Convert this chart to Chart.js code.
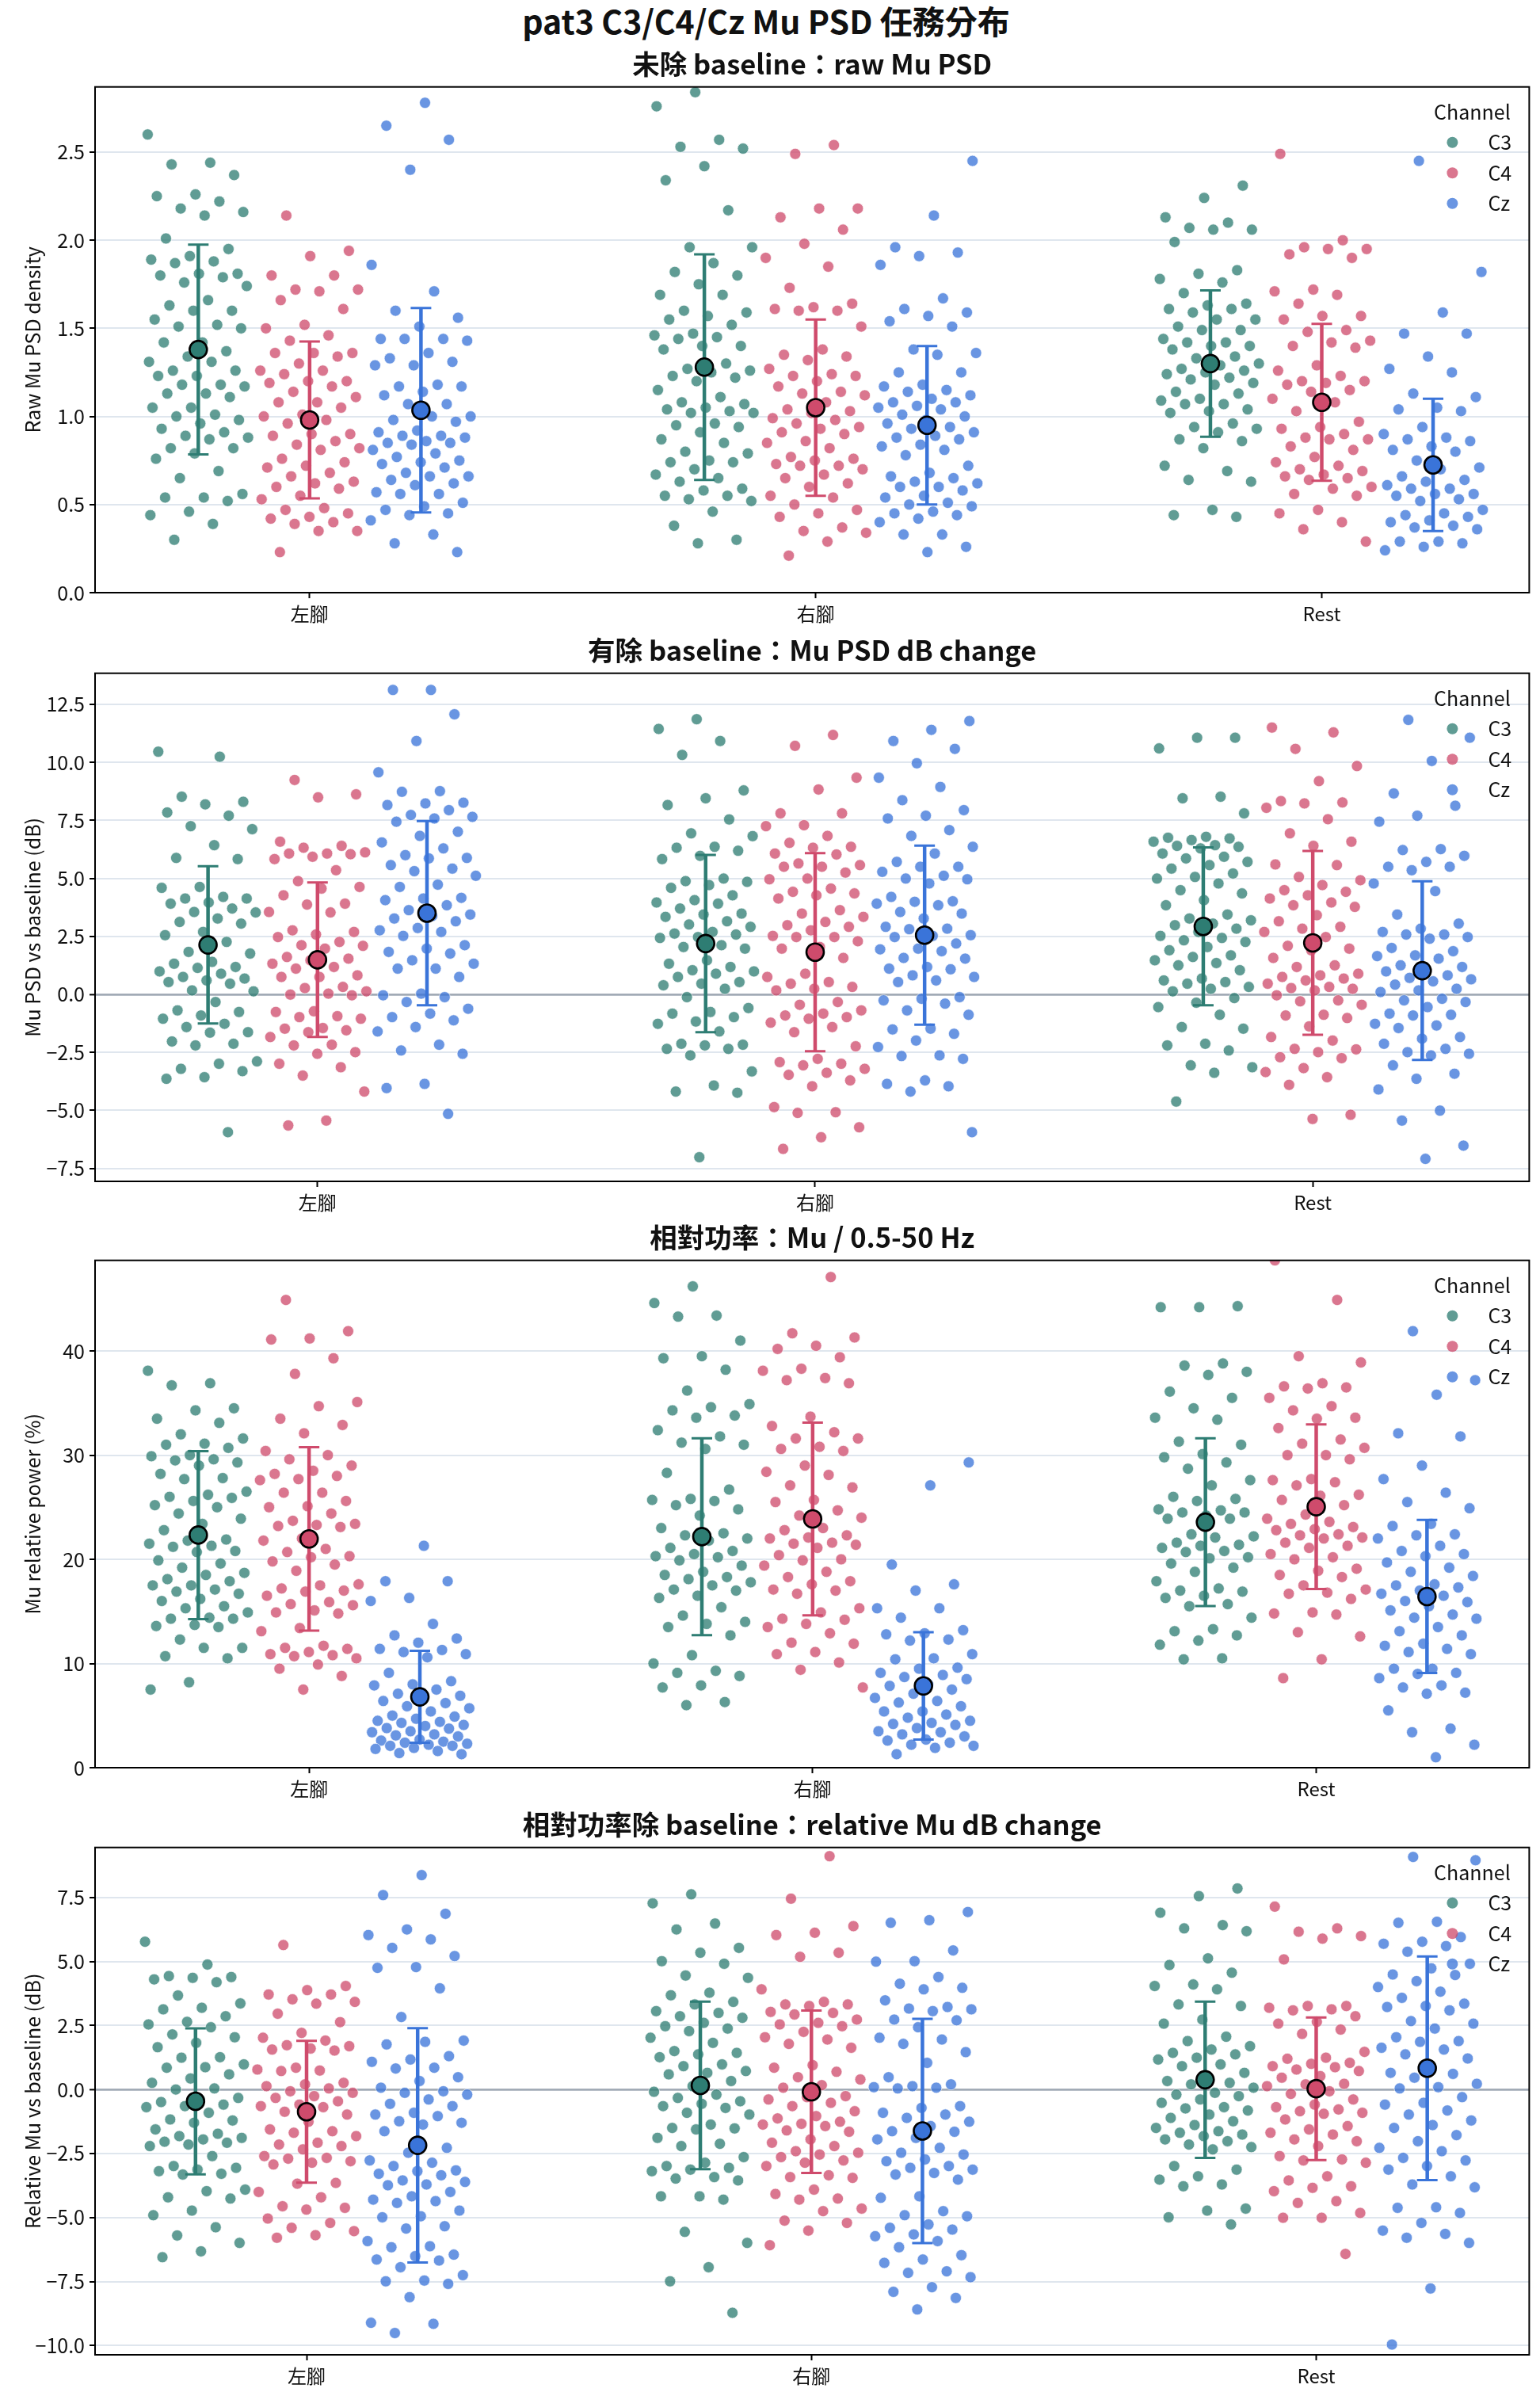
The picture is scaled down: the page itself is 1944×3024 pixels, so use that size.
<!DOCTYPE html>
<html>
<head>
<meta charset="utf-8">
<script src="https://cdn.jsdelivr.net/npm/chart.js@4.4.1/dist/chart.umd.min.js"></script>
<style>
  body { margin: 0; background: #fff; width: 1944px; height: 3024px; position: relative; overflow: hidden; }
  canvas { position: absolute; left: 0; }
  #mainTitle { position: absolute; left: 0; top: -5px; width: 1934px; height: 54px; line-height: 54px; text-align: center;
    font: bold 41px 'Noto Sans CJK TC', 'Noto Sans', sans-serif; color: #111; }
</style>
</head>
<body>
<div id="mainTitle"></div>
<canvas id="p1"></canvas>
<canvas id="p2"></canvas>
<canvas id="p3"></canvas>
<canvas id="p4"></canvas>
<script>
// categories / hue levels
const conditions = ['左腳', '右腳', 'Rest'];
const channels = ['C3', 'C4', 'Cz'];

// panel 1: raw Mu PSD, one list per condition [左腳, 右腳, Rest]
const rawC3 = [
  [2.60,2.44,2.43,2.37,2.26,2.25,2.22,2.18,2.16,2.14,2.01,1.95,1.91,1.89,1.88,1.87,1.81,1.81,1.80,1.79,1.76,1.74,1.66,1.63,1.60,1.60,1.55,1.52,1.51,1.50,1.42,1.42,1.37,1.34,1.31,1.31,1.26,1.26,1.23,1.23,1.18,1.18,1.17,1.13,1.13,1.11,1.05,1.05,1.01,1.00,0.98,0.96,0.93,0.91,0.89,0.88,0.87,0.82,0.82,0.79,0.76,0.69,0.65,0.56,0.54,0.54,0.52,0.46,0.44,0.39,0.30],
  [2.84,2.76,2.57,2.53,2.52,2.42,2.34,2.17,1.96,1.96,1.87,1.82,1.80,1.75,1.69,1.69,1.60,1.59,1.57,1.55,1.52,1.47,1.46,1.45,1.44,1.40,1.40,1.38,1.30,1.27,1.26,1.25,1.23,1.22,1.20,1.15,1.11,1.08,1.07,1.05,1.04,1.03,1.02,1.02,0.96,0.95,0.94,0.91,0.87,0.85,0.80,0.79,0.75,0.74,0.74,0.70,0.67,0.65,0.63,0.59,0.58,0.55,0.55,0.53,0.52,0.46,0.38,0.30,0.28],
  [2.31,2.24,2.13,2.10,2.07,2.06,2.06,1.99,1.83,1.81,1.78,1.76,1.70,1.64,1.63,1.61,1.61,1.59,1.55,1.55,1.51,1.49,1.49,1.44,1.42,1.42,1.40,1.40,1.38,1.34,1.33,1.30,1.29,1.27,1.26,1.25,1.24,1.22,1.21,1.19,1.18,1.14,1.13,1.10,1.09,1.07,1.07,1.04,1.03,1.02,0.96,0.94,0.93,0.91,0.87,0.86,0.82,0.72,0.69,0.64,0.63,0.47,0.44,0.43]
];
const rawC4 = [
  [2.14,1.94,1.91,1.80,1.80,1.72,1.72,1.71,1.66,1.61,1.52,1.50,1.46,1.43,1.36,1.36,1.36,1.34,1.30,1.26,1.26,1.24,1.20,1.20,1.19,1.17,1.14,1.11,1.08,1.08,1.05,1.01,1.00,0.98,0.96,0.90,0.90,0.89,0.86,0.84,0.82,0.81,0.76,0.74,0.72,0.71,0.68,0.66,0.63,0.62,0.60,0.59,0.55,0.53,0.48,0.47,0.45,0.43,0.42,0.40,0.39,0.35,0.35,0.23],
  [2.54,2.49,2.18,2.18,2.13,2.06,1.98,1.90,1.85,1.73,1.64,1.62,1.61,1.60,1.60,1.51,1.38,1.35,1.34,1.32,1.27,1.24,1.23,1.23,1.20,1.17,1.14,1.13,1.12,1.08,1.04,1.03,1.02,0.99,0.98,0.96,0.94,0.93,0.91,0.90,0.86,0.85,0.82,0.77,0.76,0.75,0.73,0.72,0.72,0.70,0.67,0.65,0.62,0.60,0.55,0.54,0.50,0.47,0.45,0.43,0.37,0.35,0.34,0.29,0.21],
  [2.49,2.00,1.96,1.95,1.95,1.92,1.90,1.72,1.71,1.69,1.64,1.57,1.57,1.55,1.49,1.48,1.43,1.42,1.40,1.39,1.29,1.26,1.23,1.20,1.20,1.19,1.18,1.15,1.14,1.10,1.08,1.03,0.97,0.94,0.93,0.90,0.88,0.87,0.87,0.83,0.81,0.77,0.74,0.72,0.70,0.69,0.67,0.66,0.65,0.64,0.60,0.59,0.56,0.55,0.47,0.45,0.40,0.36,0.29]
];
const rawCz = [
  [2.78,2.65,2.57,2.40,1.86,1.71,1.60,1.56,1.51,1.44,1.44,1.44,1.43,1.36,1.33,1.31,1.29,1.29,1.18,1.17,1.17,1.14,1.12,1.07,1.07,1.00,1.00,0.98,0.97,0.92,0.91,0.89,0.89,0.88,0.86,0.85,0.85,0.84,0.81,0.79,0.77,0.75,0.74,0.73,0.71,0.68,0.66,0.66,0.64,0.62,0.61,0.57,0.56,0.56,0.51,0.49,0.47,0.45,0.44,0.41,0.33,0.28,0.23],
  [2.45,2.14,1.96,1.93,1.91,1.86,1.67,1.61,1.59,1.57,1.54,1.51,1.38,1.36,1.35,1.25,1.25,1.18,1.17,1.15,1.14,1.12,1.10,1.08,1.08,1.06,1.05,1.04,1.01,1.00,0.98,0.96,0.94,0.93,0.91,0.89,0.88,0.87,0.84,0.83,0.81,0.78,0.72,0.68,0.66,0.65,0.63,0.62,0.60,0.60,0.58,0.55,0.54,0.51,0.50,0.49,0.46,0.45,0.44,0.42,0.40,0.33,0.33,0.26,0.23],
  [2.45,1.82,1.59,1.47,1.47,1.34,1.27,1.25,1.13,1.11,1.05,1.04,1.03,0.94,0.90,0.88,0.87,0.86,0.83,0.81,0.80,0.75,0.71,0.70,0.66,0.64,0.63,0.61,0.59,0.59,0.56,0.56,0.55,0.53,0.52,0.47,0.45,0.44,0.43,0.41,0.40,0.38,0.37,0.36,0.29,0.29,0.28,0.26,0.24]
];
const rawMeanC3 = [1.38, 1.28, 1.30], rawSdC3 = [0.595, 0.64, 0.415];
const rawMeanC4 = [0.98, 1.05, 1.08], rawSdC4 = [0.445, 0.50, 0.445];
const rawMeanCz = [1.035, 0.95, 0.725], rawSdCz = [0.58, 0.45, 0.375];
const rawTicks = [0, 0.5, 1, 1.5, 2, 2.5];
const rawTickLabels = ['0.0', '0.5', '1.0', '1.5', '2.0', '2.5'];

// panel 2: Mu PSD dB change vs baseline
const dbC3 = [
  [10.46,10.24,8.52,8.30,8.19,7.84,7.70,7.25,7.12,6.43,5.88,5.83,4.63,4.59,4.20,4.13,4.13,3.96,3.91,3.70,3.55,3.53,3.27,3.12,3.05,2.69,2.55,2.26,1.83,1.76,1.40,1.32,1.18,1.14,0.99,0.89,0.75,0.68,0.60,0.53,0.46,0.17,0.13,-0.33,-0.69,-0.76,-0.91,-1.05,-1.27,-1.41,-1.63,-1.65,-2.03,-2.13,-2.20,-2.89,-2.99,-3.21,-3.31,-3.57,-3.64,-5.94],
  [11.86,11.44,10.92,10.32,8.79,8.45,8.16,7.54,6.94,6.82,6.36,6.32,6.19,5.97,5.83,4.99,4.88,4.85,4.71,4.59,4.27,4.06,3.96,3.91,3.70,3.48,3.44,3.34,3.15,3.01,2.91,2.69,2.62,2.58,2.47,2.43,2.12,2.04,1.97,1.47,1.32,1.18,1.04,0.99,0.89,0.75,0.53,0.46,0.39,0.24,-0.12,-0.59,-0.76,-0.83,-0.98,-1.17,-1.27,-1.60,-2.13,-2.17,-2.20,-2.35,-2.35,-2.63,-3.32,-3.93,-4.19,-4.24,-7.02],
  [11.06,11.06,10.60,8.52,8.45,7.80,6.79,6.75,6.72,6.65,6.58,6.43,6.40,6.36,6.29,6.07,5.93,5.86,5.71,5.57,5.42,5.21,5.06,4.99,4.78,4.49,4.35,4.06,3.84,3.44,3.27,3.19,3.05,2.98,2.83,2.69,2.52,2.43,2.33,2.26,2.04,1.90,1.68,1.61,1.47,1.35,1.25,1.04,0.68,0.60,0.53,0.46,0.32,0.24,0.13,-0.16,-0.36,-0.55,-0.88,-1.41,-1.48,-2.13,-2.20,-2.42,-3.06,-3.14,-3.38,-4.62]
];
const dbC4 = [
  [9.24,8.62,8.49,6.58,6.40,6.32,6.12,6.07,6.07,6.04,5.93,5.83,5.35,4.88,4.63,4.56,4.27,3.91,3.87,3.55,3.53,2.76,2.69,2.58,2.47,2.26,2.12,2.09,1.97,1.61,1.54,1.47,1.32,1.18,1.11,0.82,0.75,0.75,0.32,0.27,0.13,0.03,-0.01,-0.04,-0.73,-0.76,-0.94,-0.98,-1.05,-1.45,-1.48,-1.55,-1.63,-1.84,-2.17,-2.20,-2.49,-2.56,-2.99,-3.14,-3.50,-4.19,-5.44,-5.65],
  [11.18,10.71,9.34,8.83,7.80,7.80,7.29,7.25,6.83,6.53,6.36,6.32,6.07,6.03,5.64,5.57,5.50,5.50,5.25,4.99,4.96,4.56,4.42,4.35,4.27,4.13,3.63,3.48,3.34,3.12,2.98,2.91,2.76,2.52,2.47,2.47,2.29,2.04,1.97,1.57,0.89,0.75,0.53,0.46,0.32,0.24,0.17,-0.33,-0.45,-0.69,-0.83,-0.91,-0.98,-1.05,-1.22,-1.41,-1.63,-2.24,-2.78,-2.92,-2.99,-3.06,-3.21,-3.38,-3.47,-3.71,-3.96,-4.86,-5.08,-5.11,-5.73,-6.16,-6.66],
  [11.50,11.29,10.58,9.84,9.19,8.33,8.27,8.23,8.04,7.55,6.94,6.58,6.40,5.60,5.57,5.06,4.92,4.71,4.49,4.42,4.27,4.13,3.96,3.84,3.77,3.41,3.15,2.91,2.83,2.69,2.47,2.09,1.97,1.90,1.57,1.25,1.18,0.89,0.82,0.75,0.68,0.60,0.46,0.32,0.27,0.24,0.17,-0.04,-0.26,-0.30,-0.45,-0.88,-0.91,-1.02,-1.38,-1.84,-1.99,-2.35,-2.37,-2.49,-2.71,-2.75,-3.18,-3.35,-3.57,-3.90,-5.19,-5.37]
];
const dbCz = [
  [13.12,13.12,12.07,10.92,9.57,8.76,8.73,8.26,8.23,8.16,7.94,7.73,7.65,7.58,7.44,7.01,6.83,6.55,6.29,6.00,5.88,5.86,5.57,5.42,5.31,5.11,4.73,4.63,4.16,4.13,4.06,3.84,3.63,3.44,3.38,3.27,3.15,2.86,2.76,2.69,2.52,2.12,1.97,1.83,1.76,1.47,1.32,1.11,1.11,0.75,0.03,-0.04,-0.12,-0.33,-0.62,-0.83,-0.98,-1.12,-1.41,-1.60,-2.17,-2.42,-2.56,-3.86,-4.04,-5.15],
  [11.78,11.40,10.92,10.58,9.96,9.34,8.94,8.37,7.94,7.70,7.58,7.08,6.83,6.36,6.07,5.71,5.50,5.50,5.28,5.11,4.99,4.96,4.78,4.20,4.01,3.99,3.91,3.84,3.55,3.48,3.27,2.91,2.83,2.81,2.55,2.52,2.47,2.19,1.97,1.94,1.86,1.57,1.54,1.18,1.11,1.08,0.82,0.75,0.60,0.53,-0.12,-0.19,-0.26,-0.40,-0.69,-0.88,-1.48,-1.51,-1.70,-1.99,-2.27,-2.63,-2.66,-2.78,-3.71,-3.86,-3.96,-4.19,-5.94],
  [11.83,11.06,10.06,8.66,8.13,7.70,7.44,6.26,6.22,5.97,5.71,5.50,5.50,5.35,4.78,4.45,3.44,3.05,2.83,2.69,2.58,2.58,2.47,2.40,2.00,1.86,1.68,1.65,1.54,1.25,1.18,1.04,0.99,0.82,0.71,0.65,0.56,0.42,0.24,0.17,0.10,-0.19,-0.26,-0.33,-0.55,-0.83,-0.88,-0.91,-1.27,-1.34,-1.45,-1.84,-1.91,-2.13,-2.35,-2.49,-2.56,-2.63,-3.06,-3.42,-3.64,-4.10,-5.01,-5.44,-6.52,-7.09]
];
const dbMeanC3 = [2.13, 2.19, 2.93], dbSdC3 = [3.39, 3.82, 3.40];
const dbMeanC4 = [1.49, 1.82, 2.22], dbSdC4 = [3.33, 4.27, 3.96];
const dbMeanCz = [3.50, 2.55, 1.02], dbSdCz = [3.97, 3.86, 3.85];
const dbTicks = [-7.5, -5, -2.5, 0, 2.5, 5, 7.5, 10, 12.5];
const dbTickLabels = ['−7.5', '−5.0', '−2.5', '0.0', '2.5', '5.0', '7.5', '10.0', '12.5'];

// panel 3: relative Mu power (%)
const relC3 = [
  [38.1,36.9,36.7,34.5,34.3,33.5,33.1,32.0,31.6,31.1,31.0,30.7,30.0,29.9,29.6,29.5,29.3,29.0,28.2,27.8,27.7,26.5,26.2,26.0,25.9,25.6,25.2,25.0,24.4,23.9,23.4,22.8,21.9,21.8,21.5,21.3,21.2,20.8,20.7,19.9,19.6,19.2,18.7,18.5,18.1,17.9,17.5,17.5,17.1,16.9,16.7,16.2,16.0,15.5,15.3,14.9,14.4,14.3,14.3,13.7,13.6,13.5,12.3,11.5,11.5,10.7,10.5,8.2,7.5],
  [46.2,44.6,43.4,43.3,41.0,39.5,39.3,38.2,36.2,34.9,34.6,34.3,33.8,33.6,32.4,31.8,31.2,31.0,30.6,28.3,26.7,25.8,25.7,25.6,25.2,24.8,24.2,23.0,22.5,22.3,22.0,21.8,21.1,20.8,20.5,20.3,20.2,19.9,19.4,18.8,18.5,18.3,18.1,17.8,17.5,17.1,17.0,16.5,16.3,15.4,14.6,14.0,13.8,13.5,12.7,10.8,10.0,9.3,9.1,8.8,7.9,7.7,6.3,6.0],
  [44.3,44.2,44.2,38.8,38.6,38.0,37.7,36.1,35.5,34.5,33.6,33.4,31.3,31.0,30.1,29.8,29.3,28.7,27.6,27.1,26.0,25.8,25.6,24.8,24.7,24.5,24.5,24.2,23.9,23.9,22.4,22.2,22.1,21.6,21.4,21.3,21.1,20.8,20.7,20.2,20.1,19.6,19.2,18.8,17.9,17.2,17.0,16.9,16.5,16.3,15.7,15.5,14.4,13.3,13.1,12.7,12.2,11.8,10.5,10.4]
];
const relC4 = [
  [44.9,41.9,41.2,41.1,39.3,37.8,35.1,34.7,33.5,32.9,32.1,30.4,30.0,29.6,29.0,28.5,28.2,28.0,27.7,27.6,26.4,26.4,25.6,25.1,25.0,24.4,23.7,23.4,23.3,23.2,23.1,22.0,21.8,21.0,20.7,20.3,20.2,19.8,19.5,18.9,17.6,17.5,17.2,17.0,16.9,16.5,15.9,15.7,15.6,15.1,14.9,14.8,13.4,13.1,11.7,11.5,11.4,11.1,10.9,10.8,10.7,10.5,9.9,9.5,8.8,7.5],
  [47.1,41.7,41.3,40.5,40.2,39.4,38.3,38.1,37.4,37.2,36.9,33.7,32.8,32.2,31.6,31.6,30.8,30.6,30.4,29.0,28.4,28.1,27.1,26.9,25.7,25.5,24.7,24.2,24.0,23.0,22.8,22.3,22.1,22.0,21.6,21.5,21.4,21.1,20.4,20.0,19.9,19.4,18.8,18.3,17.9,17.6,17.1,17.0,16.7,15.3,14.9,14.3,14.2,13.8,13.5,12.9,12.0,11.9,11.1,10.9,10.1,9.4,7.7],
  [48.7,44.9,39.5,38.9,36.9,36.6,36.5,36.4,35.5,34.7,34.3,33.6,33.5,32.6,31.5,31.1,30.7,30.0,30.0,29.6,27.7,27.6,27.4,27.1,26.2,26.1,25.7,25.2,24.3,23.9,23.6,23.4,23.1,22.9,22.8,22.4,22.3,22.1,22.0,21.6,21.3,21.1,20.5,20.2,20.0,19.1,18.9,18.5,18.3,17.5,17.1,16.8,16.7,16.2,14.9,14.8,14.7,13.0,12.6,10.4,8.6]
];
const relCz = [
  [21.3,17.9,17.9,16.3,16.0,13.8,12.7,12.4,12.0,11.4,11.3,11.1,10.9,10.6,9.1,8.3,8.0,7.9,7.5,7.1,6.9,6.6,6.4,6.2,5.9,5.7,5.4,5.0,4.9,4.7,4.5,4.4,4.3,4.1,4.0,3.8,3.75,3.5,3.4,3.2,3.1,3.0,2.7,2.6,2.5,2.4,2.3,2.2,2.1,2.1,1.9,1.8,1.6,1.4,1.3],
  [29.3,27.1,19.5,17.6,17.0,15.3,15.3,14.4,13.2,12.9,12.8,12.3,12.2,10.9,10.5,10.4,9.6,9.5,9.1,8.9,8.7,8.5,8.0,7.85,7.5,7.1,6.7,6.4,6.25,5.9,5.4,5.4,5.1,4.8,4.5,4.3,4.2,4.1,3.8,3.5,3.4,3.2,3.0,2.7,2.6,2.4,2.2,2.1,1.9,1.3],
  [41.9,37.2,35.8,32.1,31.8,29.0,27.7,26.4,25.5,24.9,23.4,23.2,22.4,22.3,22.0,21.3,20.8,20.5,20.3,19.7,19.2,18.8,18.4,17.6,17.5,17.3,17.0,16.7,16.5,16.0,15.9,15.5,15.1,14.7,14.4,14.3,13.5,13.1,12.7,11.9,11.7,11.4,11.1,10.9,9.5,9.5,9.1,9.0,8.6,7.9,7.7,7.2,7.1,5.5,3.75,3.4,2.2,1.0]
];
const relMeanC3 = [22.33, 22.18, 23.57], relSdC3 = [8.06, 9.45, 8.05];
const relMeanC4 = [21.96, 23.88, 25.05], relSdC4 = [8.8, 9.25, 7.9];
const relMeanCz = [6.8, 7.85, 16.43], relSdCz = [4.41, 5.15, 7.35];
const relTicks = [0, 10, 20, 30, 40];
const relTickLabels = ['0', '10', '20', '30', '40'];

// panel 4: relative Mu dB change vs baseline
const relDbC3 = [
  [5.77,4.88,4.43,4.39,4.36,4.30,4.19,3.67,3.36,3.19,3.13,2.86,2.64,2.54,2.43,2.15,2.04,1.82,1.65,1.26,1.24,0.98,0.87,0.85,0.59,0.43,0.26,0.04,0.00,-0.33,-0.39,-0.49,-0.59,-0.65,-0.69,-0.91,-1.17,-1.21,-1.30,-1.56,-1.73,-1.82,-1.89,-1.95,-2.04,-2.08,-2.15,-2.21,-2.60,-2.99,-3.06,-3.13,-3.19,-3.29,-3.32,-3.91,-3.97,-4.21,-4.26,-4.73,-4.91,-5.38,-5.70,-5.99,-6.32,-6.55],
  [7.62,7.27,6.48,6.25,5.53,5.34,5.01,4.91,4.45,4.36,3.78,3.68,3.42,3.32,3.06,2.99,2.86,2.80,2.60,2.47,2.38,2.28,2.02,1.82,1.50,1.43,1.37,1.26,0.98,0.91,0.72,0.65,0.59,0.33,0.13,-0.09,-0.20,-0.33,-0.46,-0.56,-0.65,-0.72,-0.91,-0.98,-1.37,-1.50,-1.52,-1.56,-1.89,-2.12,-2.21,-2.64,-2.86,-2.99,-3.06,-3.13,-3.19,-3.42,-3.48,-3.55,-4.17,-4.17,-4.30,-5.56,-5.99,-6.94,-7.49,-8.72],
  [7.85,7.55,6.90,6.42,6.29,6.18,5.12,4.86,4.56,4.10,4.04,3.91,3.32,3.26,2.73,2.57,2.06,1.89,1.69,1.56,1.43,1.37,1.24,1.17,0.98,0.91,0.65,0.52,0.33,0.26,0.20,0.07,-0.13,-0.20,-0.26,-0.39,-0.52,-0.69,-0.74,-0.82,-0.98,-1.11,-1.24,-1.39,-1.50,-1.63,-1.69,-1.76,-1.82,-1.95,-2.02,-2.15,-2.25,-2.34,-2.99,-3.13,-3.39,-3.52,-3.71,-3.78,-4.65,-4.73,-4.99,-5.27]
];
const relDbC4 = [
  [5.64,4.04,3.88,3.71,3.71,3.52,3.42,3.35,2.96,2.63,2.21,2.02,1.91,1.73,1.69,1.60,1.56,1.52,0.85,0.78,0.74,0.72,0.26,0.20,0.13,0.04,-0.07,-0.13,-0.26,-0.33,-0.46,-0.59,-0.65,-0.69,-0.87,-0.98,-1.26,-1.56,-1.63,-1.69,-1.82,-2.08,-2.15,-2.21,-2.34,-2.60,-2.67,-2.70,-2.80,-2.86,-2.93,-3.65,-3.68,-4.00,-4.21,-4.56,-4.62,-4.69,-5.04,-5.21,-5.40,-5.53,-5.69,-5.79],
  [9.11,7.45,6.38,6.12,6.03,5.34,5.18,3.91,3.42,3.32,3.32,3.26,3.03,2.99,2.93,2.73,2.60,2.54,2.47,2.25,2.04,1.95,1.78,1.63,0.95,0.85,0.69,0.48,0.39,0.17,0.07,-0.26,-0.30,-0.39,-0.52,-0.65,-0.85,-1.04,-1.13,-1.26,-1.34,-1.37,-1.43,-1.60,-1.65,-1.95,-2.08,-2.21,-2.41,-2.47,-2.54,-2.64,-2.77,-2.86,-2.99,-3.35,-3.42,-3.45,-3.91,-4.08,-4.26,-4.30,-4.65,-4.75,-5.12,-5.21,-5.51,-6.08],
  [7.14,6.29,6.16,5.99,5.89,5.08,3.26,3.26,3.19,3.13,3.09,2.86,2.64,2.57,2.34,2.17,1.47,1.24,1.20,1.04,1.00,0.91,0.87,0.78,0.72,0.52,0.46,0.22,0.20,0.13,-0.07,-0.17,-0.39,-0.59,-0.69,-0.78,-0.85,-0.91,-0.95,-1.17,-1.43,-1.56,-1.69,-1.76,-1.95,-2.02,-2.21,-2.60,-2.73,-2.77,-2.86,-3.39,-3.55,-3.78,-3.84,-3.97,-4.36,-4.43,-4.82,-5.01,-5.01,-6.42]
];
const relDbCz = [
  [8.37,7.59,6.86,6.25,6.03,5.86,5.53,5.21,4.78,4.75,3.95,2.83,1.91,1.86,1.76,1.30,1.17,1.08,0.85,0.82,0.48,0.33,0.07,-0.07,-0.13,-0.20,-0.39,-0.56,-0.65,-0.91,-0.98,-1.04,-1.24,-1.30,-1.37,-1.63,-2.28,-2.47,-2.77,-2.86,-2.99,-3.16,-3.19,-3.29,-3.35,-3.55,-3.61,-3.71,-3.74,-4.00,-4.17,-4.30,-4.36,-4.43,-4.73,-4.95,-4.99,-5.34,-5.43,-5.92,-6.12,-6.16,-6.45,-6.51,-6.64,-6.68,-6.94,-7.25,-7.46,-7.49,-7.59,-8.11,-9.11,-9.15,-9.51],
  [6.93,6.61,6.51,5.43,5.01,4.99,4.39,4.13,3.97,3.91,3.48,3.22,3.16,3.13,3.06,2.73,2.70,2.43,2.02,1.95,1.78,1.46,1.04,0.48,0.20,0.13,0.09,0.07,0.04,-0.65,-0.72,-0.91,-0.98,-1.11,-1.26,-1.43,-1.63,-1.65,-1.89,-1.95,-2.28,-2.47,-2.54,-2.73,-2.80,-2.99,-3.06,-3.13,-3.26,-3.32,-3.52,-4.17,-4.23,-4.75,-4.91,-4.95,-5.27,-5.40,-5.47,-5.66,-5.73,-5.92,-6.16,-6.47,-6.64,-6.77,-7.10,-7.16,-7.33,-7.72,-7.90,-8.14,-8.59],
  [9.08,8.95,6.55,6.51,5.95,5.77,5.69,5.60,5.38,4.91,4.73,4.49,4.47,4.23,4.00,3.82,3.58,3.35,3.26,3.22,3.09,2.67,2.57,2.38,2.04,1.89,1.86,1.63,1.56,1.37,1.21,0.95,0.65,0.61,0.46,0.22,0.09,0.04,-0.30,-0.52,-0.59,-0.82,-0.98,-1.21,-1.39,-1.50,-1.78,-2.02,-2.28,-2.41,-2.67,-2.77,-2.99,-3.13,-3.39,-3.71,-3.82,-4.60,-4.62,-4.82,-5.21,-5.51,-5.64,-5.79,-5.99,-7.77,-9.96]
];
const relDbMeanC3 = [-0.46, 0.16, 0.38], relDbSdC3 = [2.85, 3.27, 3.05];
const relDbMeanC4 = [-0.87, -0.09, 0.03], relDbSdC4 = [2.77, 3.17, 2.785];
const relDbMeanCz = [-2.18, -1.62, 0.83], relDbSdCz = [4.575, 4.38, 4.365];
const relDbTicks = [-10, -7.5, -5, -2.5, 0, 2.5, 5, 7.5];
const relDbTickLabels = ['−10.0', '−7.5', '−5.0', '−2.5', '0.0', '2.5', '5.0', '7.5'];

const mainTitle = 'pat3 C3/C4/Cz Mu PSD 任務分布';

// ---- styling / layout ----
const FONT = "'Noto Sans CJK TC', 'Noto Sans', sans-serif";
const baseColors = ['#2e7d73', '#cf4b6c', '#3a74d9'];
const pointColors = ['rgba(46,125,115,0.76)', 'rgba(207,75,108,0.76)', 'rgba(58,116,217,0.76)'];
const DODGE = [-0.22, 0, 0.22];
const JITTER = 0.1;
const AREA_LEFT = 120, AREA_RIGHT = 1934, CANVAS_W = 1944;

Chart.defaults.font.family = FONT;
Chart.defaults.color = '#111';

document.getElementById('mainTitle').textContent = mainTitle;

const panels = [
  { id: 'p1', title: '未除 baseline：raw Mu PSD', yTitle: 'Raw Mu PSD density',
    series: [rawC3, rawC4, rawCz], means: [rawMeanC3, rawMeanC4, rawMeanCz], sds: [rawSdC3, rawSdC4, rawSdCz],
    ticks: rawTicks, tickLabels: rawTickLabels, yMin: 0, yMax: 2.87, xMin: -0.424, xMax: 2.41,
    top: 110, bottom: 748, zeroLine: false },
  { id: 'p2', title: '有除 baseline：Mu PSD dB change', yTitle: 'Mu PSD vs baseline (dB)',
    series: [dbC3, dbC4, dbCz], means: [dbMeanC3, dbMeanC4, dbMeanCz], sds: [dbSdC3, dbSdC4, dbSdCz],
    ticks: dbTicks, tickLabels: dbTickLabels, yMin: -8.06, yMax: 13.84, xMin: -0.447, xMax: 2.435,
    top: 850, bottom: 1491, zeroLine: true },
  { id: 'p3', title: '相對功率：Mu / 0.5-50 Hz', yTitle: 'Mu relative power (%)',
    series: [relC3, relC4, relCz], means: [relMeanC3, relMeanC4, relMeanCz], sds: [relSdC3, relSdC4, relSdCz],
    ticks: relTicks, tickLabels: relTickLabels, yMin: 0, yMax: 48.7, xMin: -0.425, xMax: 2.423,
    top: 1591, bottom: 2231, zeroLine: false },
  { id: 'p4', title: '相對功率除 baseline：relative Mu dB change', yTitle: 'Relative Mu vs baseline (dB)',
    series: [relDbC3, relDbC4, relDbCz], means: [relDbMeanC3, relDbMeanC4, relDbMeanCz], sds: [relDbSdC3, relDbSdC4, relDbSdCz],
    ticks: relDbTicks, tickLabels: relDbTickLabels, yMin: -10.36, yMax: 9.45, xMin: -0.419, xMax: 2.422,
    top: 2332, bottom: 2972, zeroLine: true }
];

// error bars (drawn right before each mean marker), frame and legend
const stripDecor = {
  id: 'stripDecor',
  beforeDatasetDraw(chart, args) {
    const ds = chart.data.datasets[args.index];
    if (!ds.sd) return;
    const { ctx } = chart;
    const x = chart.scales.x, y = chart.scales.y;
    ctx.save();
    ctx.strokeStyle = ds.barColor;
    ds.data.forEach((p, i) => {
      const px = x.getPixelForValue(p.x);
      const top = y.getPixelForValue(p.y + ds.sd[i]);
      const bot = y.getPixelForValue(p.y - ds.sd[i]);
      ctx.lineWidth = 4.5;
      ctx.beginPath(); ctx.moveTo(px, top); ctx.lineTo(px, bot); ctx.stroke();
      ctx.lineWidth = 3;
      ctx.beginPath();
      ctx.moveTo(px - 13, top); ctx.lineTo(px + 13, top);
      ctx.moveTo(px - 13, bot); ctx.lineTo(px + 13, bot);
      ctx.stroke();
    });
    ctx.restore();
  },
  afterDraw(chart) {
    const { ctx, chartArea: a } = chart;
    ctx.save();
    ctx.strokeStyle = '#000';
    ctx.lineWidth = 2;
    ctx.strokeRect(a.left, a.top, a.right - a.left, a.bottom - a.top);
    // legend
    ctx.fillStyle = '#111';
    ctx.font = `25px ${FONT}`;
    ctx.textBaseline = 'middle';
    ctx.textAlign = 'center';
    ctx.fillText('Channel', a.right - 72, a.top + 32);
    ctx.textAlign = 'left';
    channels.forEach((name, k) => {
      const yy = a.top + 70 + k * 38.5;
      ctx.beginPath();
      ctx.arc(a.right - 97, yy, 7, 0, Math.PI * 2);
      ctx.fillStyle = pointColors[k];
      ctx.fill();
      ctx.fillStyle = '#111';
      ctx.fillText(name, a.right - 52, yy);
    });
    ctx.restore();
  }
};

function buildPanel(cfg, idx) {
  const canvas = document.getElementById(cfg.id);
  const canvasTop = cfg.top - 49.7;
  const height = Math.round(cfg.bottom + 50 - canvasTop);
  canvas.width = CANVAS_W;
  canvas.height = height;
  canvas.style.top = canvasTop + 'px';
  canvas.style.width = CANVAS_W + 'px';
  canvas.style.height = height + 'px';

  const datasets = [];
  cfg.series.forEach((groups, k) => {
    const pts = [];
    groups.forEach((vals, c) => {
      vals.forEach((v, i) => {
        const j = ((i * 0.6180339 + k * 0.27 + c * 0.41) % 1 - 0.5) * 2 * JITTER;
        pts.push({ x: c + DODGE[k] + j, y: v });
      });
    });
    datasets.push({
      label: channels[k], data: pts, order: 2,
      pointRadius: 7, pointHoverRadius: 7,
      backgroundColor: pointColors[k], borderColor: 'rgba(255,255,255,0.85)', borderWidth: 0.8
    });
  });
  cfg.means.forEach((m, k) => {
    datasets.push({
      label: channels[k] + ' mean', order: 1,
      data: m.map((v, c) => ({ x: c + DODGE[k], y: v })),
      sd: cfg.sds[k], barColor: baseColors[k],
      pointRadius: 11, pointHoverRadius: 11,
      backgroundColor: baseColors[k], borderColor: '#000', borderWidth: 2.6
    });
  });

  new Chart(canvas.getContext('2d'), {
    type: 'scatter',
    data: { datasets },
    options: {
      responsive: false, animation: false, devicePixelRatio: 1,
      events: [],
      layout: { padding: { left: 0, right: CANVAS_W - AREA_RIGHT, top: 0, bottom: 0 } },
      plugins: {
        legend: { display: false },
        tooltip: { enabled: false },
        title: {
          display: true, text: cfg.title, fullSize: false,
          font: { family: FONT, size: 34.5, weight: 'bold' },
          color: '#111', padding: { top: 0, bottom: 8.3 }
        }
      },
      scales: {
        x: {
          type: 'linear', min: cfg.xMin, max: cfg.xMax,
          afterBuildTicks: s => { s.ticks = conditions.map((_, i) => ({ value: i })); },
          afterFit: s => { s.height = 50; },
          ticks: { callback: v => conditions[v], font: { size: 24 }, color: '#111', padding: 5, autoSkip: false, maxRotation: 0 },
          grid: { display: true, drawOnChartArea: false, tickLength: 7, tickColor: '#000', tickWidth: 2 },
          border: { display: false }
        },
        y: {
          min: cfg.yMin, max: cfg.yMax,
          afterBuildTicks: s => { s.ticks = cfg.ticks.map(v => ({ value: v })); },
          afterFit: s => { s.width = AREA_LEFT; },
          ticks: { callback: (v, i) => cfg.tickLabels[i], font: { size: 25 }, color: '#111', padding: 6 },
          grid: {
            color: c => (cfg.zeroLine && c.tick && c.tick.value === 0) ? '#a2abb6' : '#dfe6ee',
            lineWidth: c => (cfg.zeroLine && c.tick && c.tick.value === 0) ? 2.8 : 2,
            tickLength: 7, tickColor: '#000', tickWidth: 2
          },
          border: { display: false },
          title: { display: true, text: cfg.yTitle, font: { size: 25 }, color: '#111', padding: { top: 26, bottom: 4 } }
        }
      }
    },
    plugins: [stripDecor]
  });
}

panels.forEach(buildPanel);
</script>
</body>
</html>
